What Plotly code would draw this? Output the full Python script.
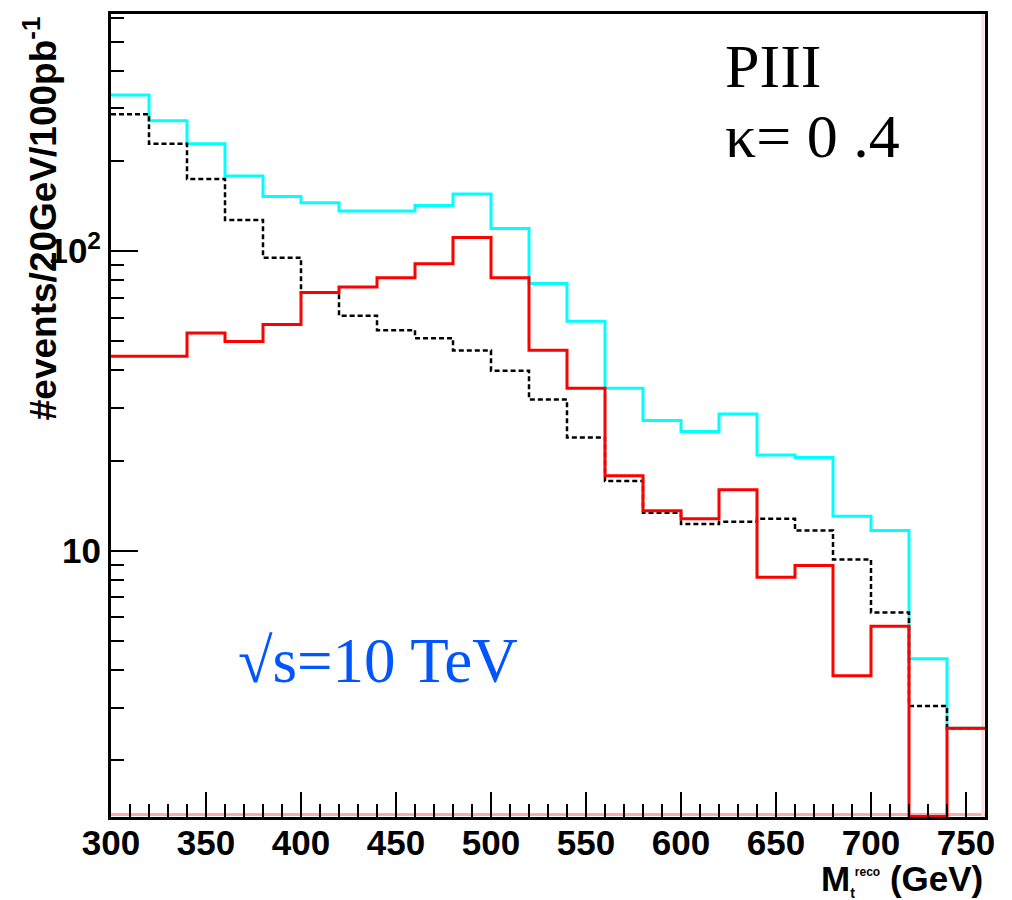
import numpy as np
import plotly.graph_objects as go

# Reconstructed top mass, 20 GeV bins
bin_edges = [300, 320, 340, 360, 380, 400, 420, 440, 460, 480, 500, 520,
             540, 560, 580, 600, 620, 640, 660, 680, 700, 720, 740, 760]

# events / 20 GeV / 100 pb^-1
total = [332, 272, 228, 178, 152, 145, 136, 136, 142, 155, 119, 78.0,
         58.3, 34.9, 27.2, 25.0, 28.6, 20.9, 20.5, 13.05, 11.7, 4.37, 2.56]
background = [286, 228, 174, 127, 95.1, 72.7, 60.9, 54.5, 51.2, 46.6, 39.9, 32.0,
              23.9, 17.1, 13.4, 12.3, 12.5, 12.8, 11.7, 9.36, 6.23, 3.04, 2.56]
signal = [44.6, 44.6, 53.3, 49.9, 56.9, 72.7, 75.9, 81.5, 90.8, 111, 81.5, 46.7,
          34.9, 17.8, 13.6, 12.8, 16.0, 8.17, 8.94, 3.83, 5.61, 1.3, 2.56]

x_major = [300, 350, 400, 450, 500, 550, 600, 650, 700, 750]
y_major = [10, 100]
y_major_text = ["10", "10<sup>2</sup>"]
y_minor = [2, 3, 4, 5, 6, 7, 8, 9, 20, 30, 40, 50, 60, 70, 80, 90,
           200, 300, 400, 500, 600]

X_RANGE = [300, 760]
Y_RANGE = [np.log10(1.295), np.log10(618)]


def step(values):
    # hv step line over the bin edges
    return bin_edges, list(values) + [values[-1]]


fig = go.Figure()

for vals, color, dash, width in [
    (total, "#00ffff", "solid", 3),
    (background, "#000000", "5px,3px", 2.5),
    (signal, "#ff0000", "solid", 3),
]:
    xs, ys = step(vals)
    fig.add_trace(go.Scatter(
        x=xs, y=ys, mode="lines", line_shape="hv",
        line=dict(color=color, width=width, dash=dash),
        hoverinfo="skip", showlegend=False,
    ))

SANS = "Liberation Sans"
SERIF = "Liberation Serif"

fig.update_layout(
    width=1012, height=900,
    margin=dict(l=111, r=27, t=14, b=83),
    paper_bgcolor="white", plot_bgcolor="white",
    showlegend=False,
    xaxis=dict(
        range=X_RANGE, showgrid=False, zeroline=False,
        showline=True, linecolor="black", linewidth=3, mirror=True,
        ticks="inside", ticklen=25, tickwidth=2, tickcolor="black",
        tickvals=x_major, ticktext=[str(v) for v in x_major],
        ticklabelstandoff=-7,
        tickfont=dict(family=SANS, size=35, color="black", weight="bold"),
        minor=dict(ticks="inside", ticklen=13, tickwidth=2, tickcolor="black",
                   dtick=10, showgrid=False),
    ),
    yaxis=dict(
        type="log", range=Y_RANGE, showgrid=False, zeroline=False,
        showline=True, linecolor="black", linewidth=3, mirror=True,
        ticks="inside", ticklen=27, tickwidth=1.5, tickcolor="black",
        tickvals=y_major, ticktext=y_major_text,
        tickfont=dict(family=SANS, size=35, color="black", weight="bold"),
        minor=dict(ticks="inside", ticklen=13, tickwidth=2, tickcolor="black",
                   tickvals=y_minor, showgrid=False),
    ),
    shapes=[
        dict(type="line", xref="x domain", yref="y domain",
             x0=0, x1=1, y0=0.003, y1=0.003,
             line=dict(color="#ffaaaa", width=3), layer="below"),
        dict(type="line", xref="x domain", yref="y domain",
             x0=0.9975, x1=0.9975, y0=0, y1=1,
             line=dict(color="#ffdcdc", width=3), layer="below"),
    ],
    annotations=[
        dict(text="#events/20GeV/100pb<sup>-1</sup>", textangle=-90,
             xref="paper", yref="paper", x=-0.081, y=1.0,
             xanchor="center", yanchor="top", showarrow=False,
             font=dict(family=SANS, size=37, color="black", weight="bold")),
        dict(text=("M<sub><span style='font-size:14px'>t</span></sub>"
                   "<sup><span style='font-size:12px'>reco</span></sup> (GeV)"),
             xref="paper", yref="paper", x=1.0, y=-0.05,
             xanchor="right", yanchor="top", showarrow=False,
             font=dict(family=SANS, size=35, color="black", weight="bold")),
        dict(text="PIII", xref="paper", yref="paper",
             x=(723 - 111) / 874, y=(817 - 30) / 803,
             xanchor="left", yanchor="top", showarrow=False,
             font=dict(family=SERIF, size=62, color="black")),
        dict(text="κ= 0 .4", xref="paper", yref="paper",
             x=(723 - 111) / 874, y=(817 - 100) / 803,
             xanchor="left", yanchor="top", showarrow=False,
             font=dict(family=SERIF, size=62, color="black")),
        dict(text="√s=10 TeV", xref="paper", yref="paper",
             x=(236 - 111) / 874, y=(817 - 624) / 803,
             xanchor="left", yanchor="top", showarrow=False,
             font=dict(family=SERIF, size=63, color="#0055ff")),
    ],
)

fig.write_html("out.html")
